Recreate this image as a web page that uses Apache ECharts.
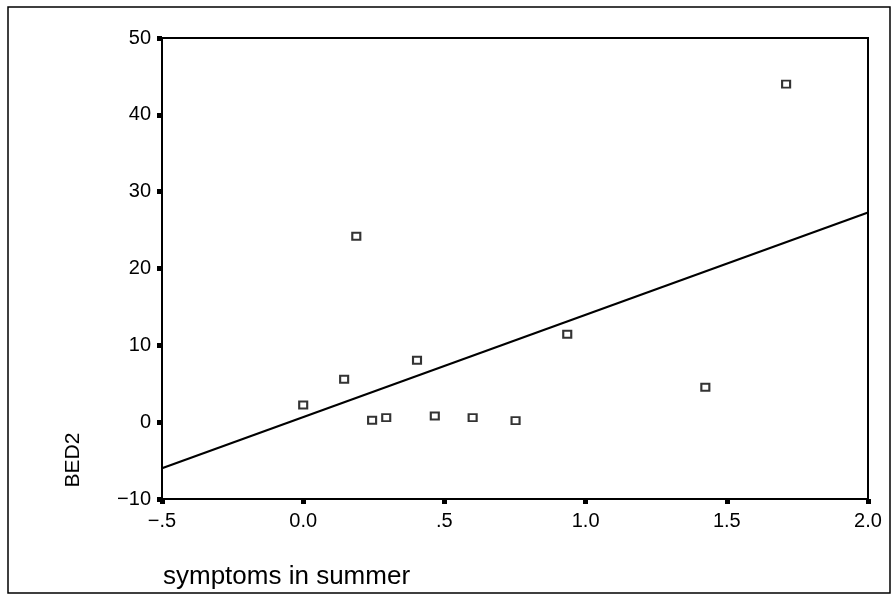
<!DOCTYPE html>
<html>
<head>
<meta charset="utf-8">
<script src="https://cdn.jsdelivr.net/npm/echarts@6/dist/echarts.min.js"></script>
<style>
html,body{margin:0;padding:0;background:#fff;}
#chart{width:892px;height:598px;}
</style>
</head>
<body>
<div id="chart"></div>
<script>
// symptoms in summer (x) vs BED2 (y)
var symptomsX = [0.00, 0.145, 0.188, 0.244, 0.294, 0.403, 0.466, 0.600, 0.752, 0.935, 1.424, 1.710];
var bed2Y     = [2.24, 5.58, 24.2, 0.25, 0.59, 8.06, 0.81, 0.59, 0.20, 11.44, 4.54, 44.0];
// regression line endpoints
var fitX = [-0.5, 2.0];
var fitY = [-6.0, 27.3];
// tick labels
var xTickLabels = ["\u2212.5", "0.0", ".5", "1.0", "1.5", "2.0"];
var yTickLabels = ["\u221210", "0", "10", "20", "30", "40", "50"];
var xTitle = "symptoms in summer";
var yTitle = "BED2";

var FONT = "Liberation Sans";
var chart = echarts.init(document.getElementById('chart'), null, {renderer: 'canvas'});

var pts = symptomsX.map(function (x, i) { return [x, bed2Y[i]]; });
var fit = fitX.map(function (x, i) { return [x, fitY[i]]; });

chart.setOption({
  backgroundColor: '#fff',
  animation: false,
  grid: {
    left: 162, right: 24, top: 38, bottom: 99,
    show: true, borderColor: '#000', borderWidth: 2, backgroundColor: 'transparent'
  },
  xAxis: {
    type: 'value', min: -0.5, max: 2.0, interval: 0.5,
    axisLine: {show: true, onZero: false, lineStyle: {color: '#000', width: 2}},
    axisTick: {show: true, length: 5, lineStyle: {color: '#000', width: 5}},
    splitLine: {show: false},
    axisLabel: {
      color: '#000', fontFamily: FONT, fontSize: 20, margin: 12,
      formatter: function (v) { return xTickLabels[Math.round((v + 0.5) / 0.5)]; }
    }
  },
  yAxis: {
    type: 'value', min: -10, max: 50, interval: 10,
    axisLine: {show: true, onZero: false, lineStyle: {color: '#000', width: 2}},
    axisTick: {show: true, length: 5, lineStyle: {color: '#000', width: 5}},
    splitLine: {show: false},
    axisLabel: {
      color: '#000', fontFamily: FONT, fontSize: 20, margin: 11,
      formatter: function (v) { return yTickLabels[Math.round((v + 10) / 10)]; }
    }
  },
  series: [
    {
      type: 'line', data: fit, symbol: 'none', silent: true,
      lineStyle: {color: '#000', width: 2.2}, z: 2
    },
    {
      type: 'scatter', data: pts, symbol: 'rect', symbolSize: [8, 7],
      itemStyle: {color: '#fff', borderColor: '#000', borderWidth: 2}, z: 3
    }
  ],
  graphic: [
    {
      type: 'rect', silent: true,
      shape: {x: 8, y: 7, width: 882, height: 586},
      style: {fill: 'none', stroke: '#000', lineWidth: 1.5}
    },
    {
      type: 'text', x: 73, y: 460, rotation: Math.PI / 2,
      style: {text: yTitle, fill: '#000', font: '21px "' + FONT + '"',
              textAlign: 'center', textVerticalAlign: 'middle'}
    },
    {
      type: 'text', x: 163, y: 577,
      style: {text: xTitle, fill: '#000', font: '26px "' + FONT + '"',
              textAlign: 'left', textVerticalAlign: 'middle'}
    }
  ]
});
</script>
</body>
</html>
